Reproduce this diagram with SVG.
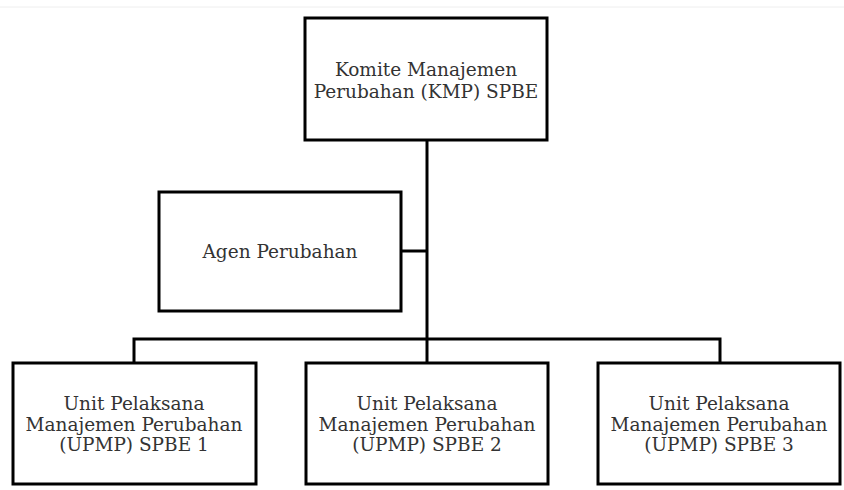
<svg xmlns="http://www.w3.org/2000/svg" width="844" height="490" viewBox="0 0 844 490">
<style>
.box{fill:#fff;stroke:#000;stroke-width:3}
.t{font-family:"DejaVu Serif","Liberation Serif",serif;font-size:18.5px;fill:#333;text-anchor:middle}
.c{fill:none;stroke:#000;stroke-width:3}
</style>
<rect width="844" height="490" fill="#fff"/>
<line x1="0" y1="7" x2="844" y2="7" stroke="#eee" stroke-width="1"/>
<g id="connectors">
<line class="c" x1="427" y1="140" x2="427" y2="363"/>
<line class="c" x1="401" y1="251" x2="427" y2="251"/>
<polyline class="c" points="134,363 134,339 720,339 720,363"/>
</g>
<g id="kmp">
<rect class="box" x="305" y="18" width="242" height="122"/>
<text class="t" x="426" y="76">Komite Manajemen</text>
<text class="t" x="426" y="98">Perubahan (KMP) SPBE</text>
</g>
<g id="agen">
<rect class="box" x="159" y="192" width="242" height="119"/>
<text class="t" x="280" y="258">Agen Perubahan</text>
</g>
<g id="upmp1">
<rect class="box" x="13" y="363" width="243" height="121"/>
<text class="t" x="134" y="410">Unit Pelaksana</text>
<text class="t" x="134" y="431">Manajemen Perubahan</text>
<text class="t" x="134" y="451">(UPMP) SPBE 1</text>
</g>
<g id="upmp2">
<rect class="box" x="306" y="363" width="242" height="121"/>
<text class="t" x="427" y="410">Unit Pelaksana</text>
<text class="t" x="427" y="431">Manajemen Perubahan</text>
<text class="t" x="427" y="451">(UPMP) SPBE 2</text>
</g>
<g id="upmp3">
<rect class="box" x="598" y="363" width="242" height="121"/>
<text class="t" x="719" y="410">Unit Pelaksana</text>
<text class="t" x="719" y="431">Manajemen Perubahan</text>
<text class="t" x="719" y="451">(UPMP) SPBE 3</text>
</g>
</svg>
